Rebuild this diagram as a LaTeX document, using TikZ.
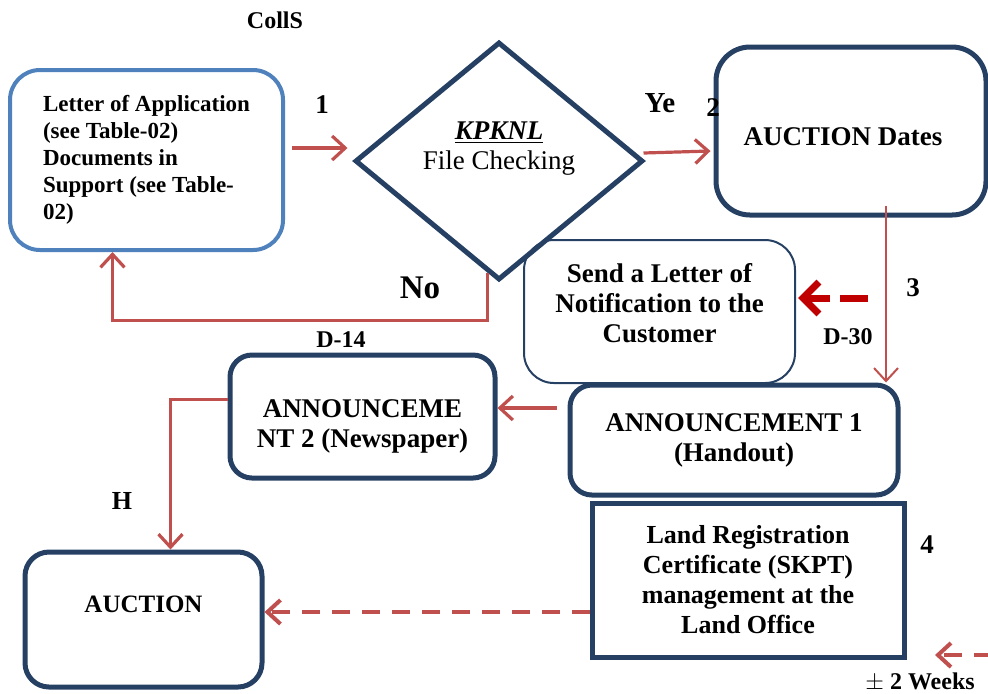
\documentclass[tikz,border=0pt]{standalone}
\usepackage{fontspec}
\setmainfont{Liberation Serif}
\usepackage{xcolor}
\usetikzlibrary{shapes.geometric}
\usetikzlibrary{arrows.meta}

\definecolor{navy}{RGB}{38,64,100}
\definecolor{lblue}{RGB}{79,129,189}
\definecolor{linkred}{RGB}{192,80,77}
\definecolor{darkred}{RGB}{192,0,0}

\begin{document}
\begin{tikzpicture}[
	  x=0.5pt, y=-0.5pt,
	  %style for arrows
	  arrw/.style={draw=linkred, line width=1.6pt, ->, >={Straight Barb[length=6.5pt,width=12pt]}},
	  %style for dashed arrows
	  darrw/.style={arrw, line width=2pt, dash pattern=on 9pt off 6pt},
	  % first style for boxes
	  bx/.style={rectangle, rounded corners=11pt, draw=navy, line width=2.5pt, fill=white, align=center, inner sep=0pt, font=\fontsize{13.5}{15}\selectfont\bfseries},
	  % second style for the decision
	  dc/.style={diamond, aspect=1.21, draw=navy, line width=2.5pt, minimum width=144pt, minimum height=119pt, inner sep=0pt, align=center, font=\fontsize{13.5}{15}\selectfont},
	  % styles for labels
	  lb/.style={font=\fontsize{13.5}{15}\selectfont\bfseries},
	  sm/.style={font=\fontsize{12}{14}\selectfont\bfseries}]

      \useasboundingbox (0,0) rectangle (988,693);

      %nodes
      \node[bx, draw=lblue, line width=2pt, rounded corners=15pt, minimum width=136.5pt, minimum height=90pt, align=left, font=\fontsize{11.5}{13.5}\selectfont\bfseries](letter) at (146.5,160){Letter of Application\\(see Table-02)\\Documents in\\Support (see Table-\\02)};
      \node[dc](check) at (499,161){\underline{\textbf{\textit{KPKNL}}}\\File Checking\\~};
      \node[bx, rounded corners=17pt, minimum width=135pt, minimum height=84pt](dates) at (851,131){\raisebox{-3pt}[\height][\depth]{AUCTION Dates}\hspace*{8pt}};
      \node[bx, fill=none, line width=1pt, rounded corners=15pt, minimum width=135.5pt, minimum height=71.5pt](notify) at (659.5,311.5){Send a Letter of\\Notification to the\\Customer\\[-6pt]~};
      \node[bx, minimum width=164pt, minimum height=55pt](ann1) at (734,440){ANNOUNCEMENT 1\\(Handout)};
      \node[bx, minimum width=132.5pt, minimum height=61.5pt, text height=34pt, text depth=3pt](ann2) at (362.5,416.5){ANNOUNCEME\\NT 2 (Newspaper)};
      \node[bx, rounded corners=12pt, minimum width=118.5pt, minimum height=67.5pt, font=\fontsize{12.5}{15}\selectfont\bfseries](auction) at (143.5,619.5){AUCTION\\~};
      \node[bx, sharp corners, minimum width=156pt, minimum height=77pt, font=\fontsize{13}{15}\selectfont\bfseries](land) at (748,580){Land Registration\\Certificate (SKPT)\\management at the\\Land Office};

      %labels
      \node[sm](colls) at (275,20){CollS};
      \node[lb](one) at (322,105){1};
      \node[lb, font=\fontsize{14.5}{16}\selectfont\bfseries](ye) at (660,103){Ye};
      \node[lb](two) at (713,108){2};
      \node[lb, font=\fontsize{16.5}{18}\selectfont\bfseries](no) at (420,288){No};
      \node[lb](three) at (913,288){3};
      \node[sm](dthirty) at (848,337){D-30};
      \node[sm](dfourteen) at (341,340){D-14};
      \node[sm, font=\fontsize{13}{15}\selectfont\bfseries](h) at (122,501){H};
      \node[lb](four) at (927,545){4};
      \node[sm](weeks) at (920,682){$\pm$ 2 Weeks};
      \coordinate (d30) at (868,298);
      \coordinate (weeksrc) at (992,655);
      \coordinate (weeksend) at (935,655);

      %edges
      \draw[arrw]([xshift=3.5pt,yshift=6pt]letter.east) -- ([xshift=-2.5pt,yshift=6.5pt]check.west);
      \draw[arrw]([xshift=-1pt,yshift=4pt]check.east) -- ([xshift=-1.5pt,yshift=-10pt]dates.west);
      \draw[arrw, line width=1pt]([xshift=17.5pt,yshift=6pt]dates.south) -- ([xshift=76pt]ann1.north);
      \draw[arrw]([xshift=-5.5pt,yshift=16pt]ann1.west) -- ([yshift=4.25pt]ann2.east);
      \draw[arrw]([yshift=8.5pt]ann2.west) -| ([xshift=13.5pt]auction.north);
      \draw[arrw](check.-96) -- ++(0,48) -| ([xshift=-17pt]letter.south);
      \draw[darrw]([yshift=-16pt]land.west) -- ([yshift=3.75pt]auction.east);
      \draw[arrw, draw=darkred, line width=3.5pt, dash pattern=on 14pt off 5pt, >={Straight Barb[length=8pt,width=16pt]}](d30) -- ([xshift=1pt,yshift=6.75pt]notify.east);
      \draw[darrw](weeksrc) -- (weeksend);
\end{tikzpicture}
\end{document}
